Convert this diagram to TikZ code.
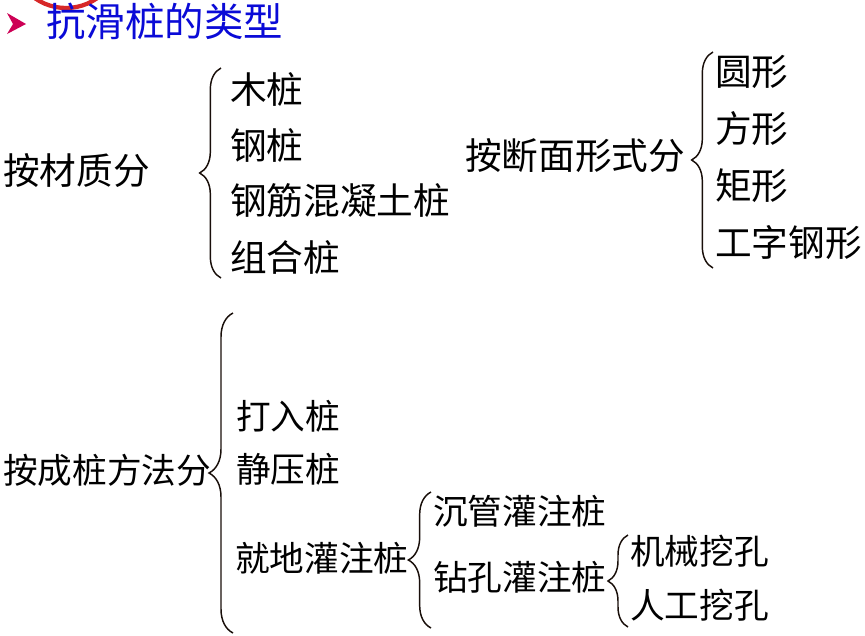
\documentclass[tikz,border=0pt]{standalone}
\usepackage{fontspec}
\newfontfamily\cjk{Noto Sans CJK SC}
\usetikzlibrary{decorations.pathreplacing}
\definecolor{titleblue}{RGB}{10,10,215}
\definecolor{markred}{RGB}{205,0,85}
\definecolor{ringred}{RGB}{215,40,40}
\definecolor{bracecol}{RGB}{25,15,10}
\tikzset{
  lbl/.style={anchor=west,inner sep=0pt,font=\cjk\fontsize{27.5}{29}\selectfont,text=black},
  lbls/.style={anchor=west,inner sep=0pt,font=\cjk\fontsize{26}{28}\selectfont,text=black},
  ttl/.style={anchor=west,inner sep=0pt,font=\cjk\fontsize{29.6}{31}\selectfont,text=titleblue},
  bracedraw/.style={draw=bracecol,line width=1.1pt,decorate,decoration={brace,amplitude=#1}},
}
\begin{document}
\begin{tikzpicture}[x=0.75pt,y=-0.75pt]
\useasboundingbox (0,0) rectangle (865,636);
\fill[white] (0,0) rectangle (865,636);
% decoration at top
\begin{scope}
\clip (0,0) rectangle (865,636);
\draw[ringred,line width=3.2] (66,-46) circle[radius=54];
\end{scope}
\fill[markred] (7,13) -- (26,24) -- (7,34) -- (13,24) -- cycle;
\node[ttl] (title) at (46,21) {抗滑桩的类型};
% group 1
\node[lbl] (g1) at (3,171) {按材质分};
\node[lbl] (a1) at (230,90) {木桩};
\node[lbl] (a2) at (230,146) {钢桩};
\node[lbl] (a3) at (230,201) {钢筋混凝土桩};
\node[lbl] (a4) at (230,258) {组合桩};
\coordinate (b1t) at (221,68);
\coordinate (b1b) at (221,278);
\draw[bracedraw=16] (b1b) -- (b1t);
% group 2
\node[lbl] (g2) at (465,156) {按断面形式分};
\node[lbl] (c1) at (715,72) {圆形};
\node[lbl] (c2) at (715,129) {方形};
\node[lbl] (c3) at (715,186) {矩形};
\node[lbl] (c4) at (715,243) {工字钢形};
\coordinate (b2t) at (713,52);
\coordinate (b2b) at (713,268);
\draw[bracedraw=16] (b2b) -- (b2t);
% group 3
\node[lbls] (g3) at (3,470) {按成桩方法分};
\node[lbls] (d1) at (236,416) {打入桩};
\node[lbls] (d2) at (236,469) {静压桩};
\node[lbls] (d3) at (235,558) {就地灌注桩};
\coordinate (b3t) at (233,313);
\coordinate (b3b) at (233,633);
\draw[bracedraw=18] (b3b) -- (b3t);
% group 4
\node[lbls] (e1) at (433,511) {沉管灌注桩};
\node[lbls] (e2) at (433,577) {钻孔灌注桩};
\coordinate (b4t) at (431,492);
\coordinate (b4b) at (431,628);
\draw[bracedraw=17] (b4b) -- (b4t);
% group 5
\node[lbls] (f1) at (630,551) {机械挖孔};
\node[lbls] (f2) at (630,605) {人工挖孔};
\coordinate (b5t) at (628,535);
\coordinate (b5b) at (628,627);
\draw[bracedraw=15] (b5b) -- (b5t);
\end{tikzpicture}
\end{document}
